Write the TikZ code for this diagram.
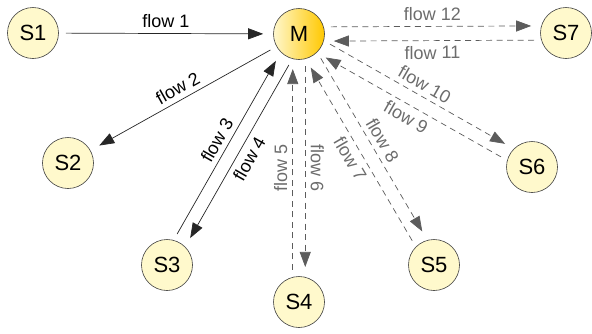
\documentclass[tikz,border=0pt]{standalone}
\usepackage{fontspec}
\setmainfont{Liberation Sans}
\usetikzlibrary{arrows.meta}
\definecolor{stfill}{HTML}{FFF9CC}
\definecolor{hubpale}{HTML}{FFF7CC}
\definecolor{hubgold}{HTML}{FFC800}
\definecolor{flowgrey}{HTML}{5C5C5C}
\definecolor{labelgrey}{HTML}{6C6C6C}

\begin{document}
\begin{tikzpicture}[x=1pt,y=1pt]
\tikzstyle{every node}+=[inner sep=0pt]
\tikzstyle{station}=[circle, draw=black!75, line width=0.6pt, fill=stfill, minimum size=51pt, font=\fontsize{22}{22}\selectfont]
\tikzstyle{hub}=[station, left color=hubpale, right color=hubgold]
\tikzstyle{flow}=[line width=0.7pt, -{Triangle[length=15pt,width=11pt]}, shorten <=7pt, shorten >=10pt]
\tikzstyle{solidflow}=[flow, draw=black!85]
\tikzstyle{dashflow}=[flow, draw=flowgrey, dash pattern=on 6pt off 4.5pt]
\tikzstyle{flowlabel}=[inner sep=5pt, font=\fontsize{18}{18}\selectfont, midway]
\tikzstyle{greylabel}=[flowlabel, text=labelgrey]
\useasboundingbox (0,0) rectangle (592,-333);
% stations
\node[hub] (M) at (299,-34) {M};
\node[station] (S1) at (33,-33) {S1};
\node[station] (S2) at (68,-163) {S2};
\node[station] (S3) at (167,-265) {S3};
\node[station] (S4) at (299,-302) {S4};
\node[station] (S5) at (434,-265) {S5};
\node[station] (S6) at (532,-167) {S6};
\node[station] (S7) at (566,-33) {S7};
% solid flows
\draw[solidflow] (S1) -- (M) node[flowlabel, above] {flow 1};
\draw[solidflow] (M) -- (S2) node[flowlabel, sloped, above] {flow 2};
\draw[solidflow] (S3.75) -- (M.225) node[flowlabel, sloped, above] {flow 3};
\draw[solidflow] (M.255) -- (S3.45) node[flowlabel, sloped, below] {flow 4};
% dashed flows
\draw[dashflow] (S4.104) -- (M.256) node[greylabel, rotate=90, above] {flow 5};
\draw[dashflow] (M.284) -- (S4.76) node[greylabel, rotate=-90, above] {flow 6};
\draw[dashflow] (S5.135) -- (M.285) node[greylabel, sloped, below] {flow 7};
\draw[dashflow] (M.315) -- (S5.105) node[greylabel, sloped, above] {flow 8};
\draw[dashflow] (S6.165) -- (M.314) node[greylabel, sloped, below] {flow 9};
\draw[dashflow] (M.345) -- (S6.135) node[greylabel, sloped, above] {flow 10};
\draw[dashflow] (S7.196) -- (M.344) node[greylabel, sloped, below] {flow 11};
\draw[dashflow] (M.16) -- (S7.164) node[greylabel, sloped, above] {flow 12};
\end{tikzpicture}
\end{document}
